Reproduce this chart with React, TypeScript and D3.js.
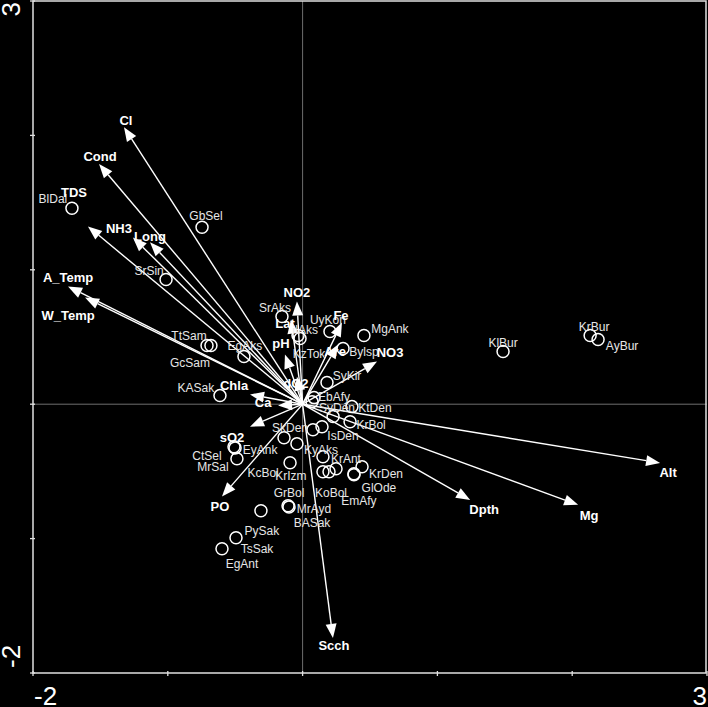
import React from "react";
import * as d3 from "d3";

// ---- data (CCA biplot scores) ----
const envNames = ["Cl","Cond","TDS","NH3","Long","A_Temp","W_Temp","NO2","Lat","pH","Fe","Are","NO3","dO2","Chla","Ca","sO2","PO","Scch","Dpth","Mg","Alt"];
const envX = [-1.325,-1.51,-1.592,-1.259,-1.132,-1.74,-1.614,-0.042,-0.086,-0.131,0.292,0.263,0.552,-0.042,-0.39,-0.182,-0.39,-0.598,0.225,1.243,2.044,2.652];
const envY = [2.061,1.787,1.323,1.241,1.205,0.876,0.794,0.764,0.63,0.37,0.608,0.444,0.317,0.205,0.072,-0.01,-0.167,-0.686,-1.739,-0.712,-0.749,-0.437];

const siteNames = ["BlDal","GbSel","SrSin","TtSam","GcSam","EgAks","KASak","SrAks","IlAks","KzTok","UyKon","MgAnk","Bylsp","SyKir","EbAfy","SyDen","KtDen","","KrBol","IsDen","","SkDen","KyAks","CtSel","EyAnk","MrSal","KcBol","KrAnt","KrIzm","GrBol","KoBol","KrDen","GlOde","EmAfy","MrAyd","BASak","PySak","TsSak","EgAnt","KlBur","KrBur","AyBur"];
const siteX = [-1.711,-0.746,-1.013,-0.709,-0.68,-0.435,-0.613,-0.153,-0.034,-0.019,0.203,0.455,0.3,0.181,0.085,0.07,0.366,0.226,0.352,0.077,0.144,-0.138,-0.042,-0.509,-0.501,-0.487,-0.093,0.151,0.151,0.196,0.248,0.441,0.381,0.381,-0.108,-0.101,-0.309,-0.494,-0.598,1.487,2.133,2.192];
const siteY = [1.458,1.316,0.928,0.437,0.437,0.355,0.064,0.653,0.511,0.489,0.541,0.511,0.414,0.161,0.049,0.019,-0.018,-0.092,-0.13,-0.19,-0.168,-0.25,-0.294,-0.316,-0.325,-0.406,-0.435,-0.391,-0.503,-0.503,-0.48,-0.465,-0.517,-0.525,-0.756,-0.764,-0.793,-0.994,-1.076,0.392,0.511,0.481];

const tickValues = [-2,-1,0,1,2,3];
const tickLabelsShown = ["-2","3"];

// ---- layout (label nudges in px) ----
const envLabelNudge: [number, number][] = [[2,-2],[1,-3],[-14,-29],[-14,-4],[0,-1],[0,-4],[-17,23],[0,-5],[-6,8],[-4,-6],[-1,-2],[-3,11],[13,-5],[-1,11],[-16,-5],[-15,1],[-18,15],[-2,15],[1,12],[14,14],[11,15],[8,14]];
const siteLabelNudge: [number, number][] = [[-19,-9],[4,-11],[-17,-8],[-18,-9],[-21,18],[1,-10],[-24,-8],[-7,-8],[7,-6],[9,16],[-2,-11],[26,-7],[21,3],[20,-7],[20,-1],[25,6],[23,1],[0,0],[21,3],[30,6],[0,0],[6,-10],[24,6],[-27,9],[25,2],[-24,8],[-27,10],[23,2],[-32,4],[-40,21],[-5,24],[24,7],[25,14],[5,26],[26,3],[23,16],[1,20],[21,11],[20,15],[0,-9],[4,-9],[24,6]];

const W = 708, H = 707;
const FONT = "'Liberation Sans', Arial, sans-serif";

export default function App() {
  const x = d3.scaleLinear().domain([-2, 3]).range([33, 707]);
  const y = d3.scaleLinear().domain([-2, 3]).range([673, 1]);
  const x0 = x(0), y0 = y(0);

  const arrows = envNames.map((name, i) => {
    const tx = x(envX[i]), ty = y(envY[i]);
    const dx = tx - x0, dy = ty - y0;
    const len = Math.hypot(dx, dy);
    const ux = dx / len, uy = dy / len;
    const hl = 14, hw = 5.5;
    const bx = tx - ux * hl, by = ty - uy * hl;
    const head = [
      [tx, ty],
      [bx - uy * hw, by + ux * hw],
      [bx + uy * hw, by - ux * hw],
    ];
    return { name, tx, ty, bx, by, head, nudge: envLabelNudge[i] };
  });

  const line = d3.line();

  return (
    <svg width={W} height={H} style={{ position: "fixed", left: 0, top: 0, background: "#000" }} fontFamily={FONT}>
      <rect x={0} y={0} width={W} height={H} fill="#000" />
      {/* zero lines */}
      <line x1={x0} x2={x0} y1={y(3)} y2={y(-2)} stroke="#6e6e6e" strokeWidth={1} />
      <line x1={x(-2)} x2={x(3)} y1={y0} y2={y0} stroke="#6e6e6e" strokeWidth={1} />
      {/* frame */}
      <rect x={x(-2)} y={y(3)} width={x(3) - x(-2) - 1} height={y(-2) - y(3)} fill="none" stroke="#e0e0e0" strokeWidth={1.5} />
      {tickValues.map((t) => (
        <g key={"t" + t}>
          <line x1={x(t)} x2={x(t)} y1={y(-2) - 2} y2={y(-2) + 3} stroke="#e0e0e0" strokeWidth={1.3} />
          <line x1={x(-2) - 3} x2={x(-2) + 2} y1={y(t)} y2={y(t)} stroke="#e0e0e0" strokeWidth={1.3} />
        </g>
      ))}
      {/* tick labels */}
      <text x={x(-2) + 1} y={705} fill="#fff" fontSize={26} textAnchor="start">{tickLabelsShown[0]}</text>
      <text x={x(3)} y={705} fill="#fff" fontSize={26} textAnchor="end">{tickLabelsShown[1]}</text>
      <text transform={`translate(20,${y(3) + 1}) rotate(-90)`} fill="#fff" fontSize={26} textAnchor="end">{tickLabelsShown[1]}</text>
      <text transform={`translate(20,${y(-2) - 5}) rotate(-90)`} fill="#fff" fontSize={26} textAnchor="start">{tickLabelsShown[0]}</text>

      {/* arrows */}
      {arrows.map((a) => (
        <g key={a.name}>
          <line x1={x0} y1={y0} x2={a.bx} y2={a.by} stroke="#fff" strokeWidth={1.4} />
          <path d={line(a.head as [number, number][]) + "Z"} fill="#fff" />
        </g>
      ))}
      {/* sites */}
      {siteNames.map((n, i) => (
        <circle key={"c" + i} cx={x(siteX[i])} cy={y(siteY[i])} r={6} fill="none" stroke="#fff" strokeWidth={1.5} />
      ))}
      {siteNames.map((n, i) =>
        n ? (
          <text key={"s" + i} x={x(siteX[i]) + siteLabelNudge[i][0]} y={y(siteY[i]) + siteLabelNudge[i][1] + 4}
            fill="#e6e6e6" fontSize={12} textAnchor="middle">{n}</text>
        ) : null
      )}
      {arrows.map((a) => (
        <text key={"l" + a.name} x={a.tx + a.nudge[0]} y={a.ty + a.nudge[1]} fill="#fff" fontSize={13}
          fontWeight="bold" textAnchor="middle">{a.name}</text>
      ))}
    </svg>
  );
}
